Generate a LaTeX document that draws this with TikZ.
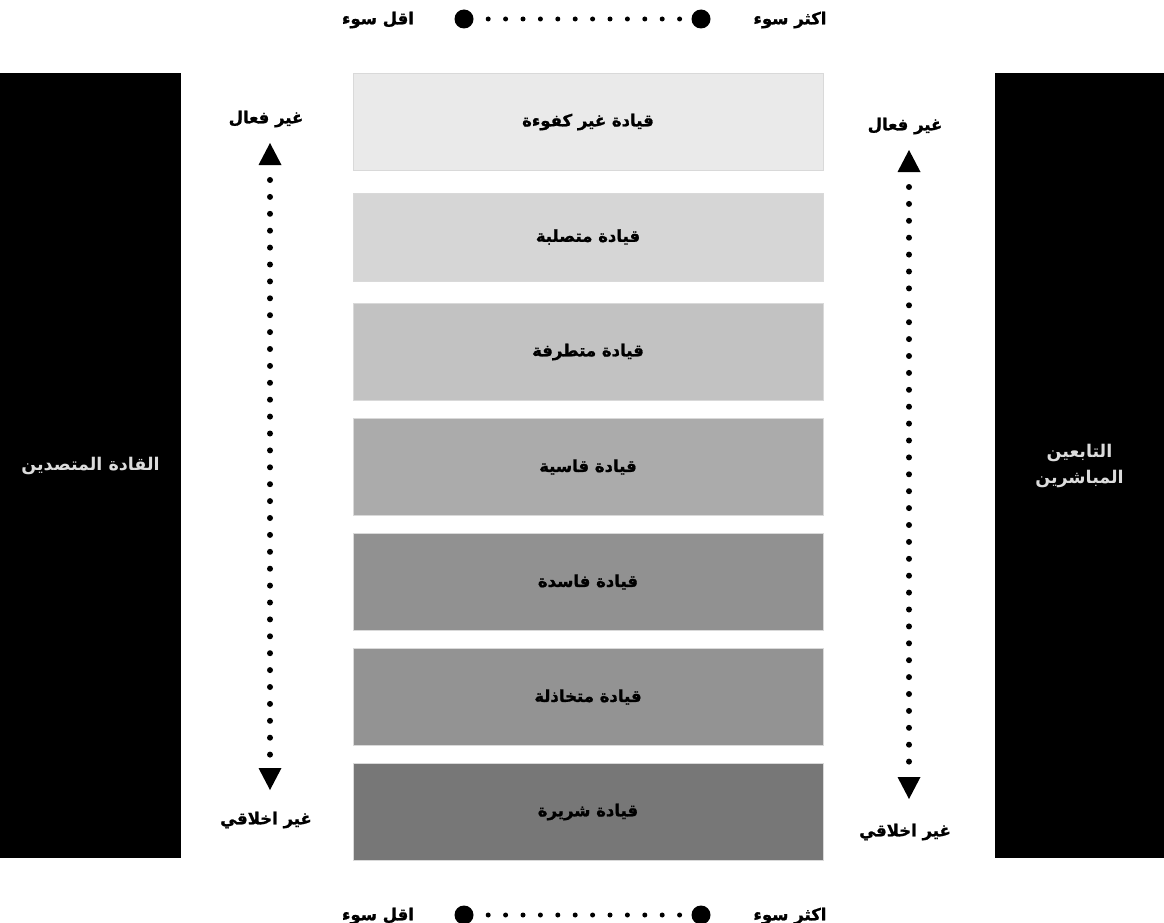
\documentclass[tikz,border=0pt]{standalone}
\usepackage{fontspec}
\usepackage{color}
\usetikzlibrary{arrows.meta}
\TeXXeTstate=1
\newfontfamily\arabicfont[Script=Arabic]{DejaVu Sans}
\newfontfamily\arabicheavy[Script=Arabic,FakeBold=1.2]{DejaVu Sans Bold}
\newcommand{\artxt}[1]{\beginR #1\endR}
\definecolor{lvlA}{HTML}{EAEAEA}
\definecolor{lvlB}{HTML}{D6D6D6}
\definecolor{lvlC}{HTML}{C2C2C2}
\definecolor{lvlD}{HTML}{ABABAB}
\definecolor{lvlE}{HTML}{919191}
\definecolor{lvlF}{HTML}{939393}
\definecolor{lvlG}{HTML}{777777}
\definecolor{bartext}{HTML}{DCDCDC}

\begin{document}
\begin{tikzpicture}[x=1pt,y=-1pt,node distance=115pt,
		level node/.style={rectangle,draw=white!85!black,line width=0.6pt,minimum width=470pt,minimum height=97pt,
			font=\arabicheavy\fontsize{16.5}{18}\selectfont},
		bar effect/.style={rectangle,fill=black,minimum height=785pt,text=bartext,align=center,
			font=\arabicfont\fontsize{17.5}{26}\selectfont\bfseries},
		tag node/.style={font=\arabicheavy\fontsize{16.5}{18}\selectfont},
		end dot/.style={circle,fill=black,minimum size=19pt,inner sep=0pt},
		dot row/.style={line width=5pt,line cap=round,dash pattern=on 0pt off 17.4pt,dash phase=2.9pt},
		dot arrow/.style={line width=6pt,line cap=round,dash pattern=on 0pt off 16.9pt,dash phase=1.9pt,
			{Triangle[length=22pt,width=23pt,line width=0pt]}-{Triangle[length=22pt,width=23pt,line width=0pt]}}]

		\useasboundingbox (0,0) rectangle (1164,923);

		% the two side bars
		\node[bar effect, minimum width=181pt] (L) at (90.5,465.5) {\artxt{القادة المتصدين}};
		\node[bar effect, minimum width=169pt] (R) at (1079.5,465.5) {\artxt{التابعين}\\\artxt{المباشرين}};

		% the seven levels
		\node[level node, fill=lvlA] (1) at (588,122) {\artxt{قيادة غير كفوءة}};
		\node[level node, fill=lvlB, minimum height=88pt] (2) [below of=1] {\artxt{قيادة متصلبة}};
		\node[level node, fill=lvlC] (3) [below of=2] {\artxt{قيادة متطرفة}};
		\node[level node, fill=lvlD] (4) [below of=3] {\artxt{قيادة قاسية}};
		\node[level node, fill=lvlE] (5) [below of=4] {\artxt{قيادة فاسدة}};
		\node[level node, fill=lvlF] (6) [below of=5] {\artxt{قيادة متخاذلة}};
		\node[level node, fill=lvlG] (7) [below of=6] {\artxt{قيادة شريرة}};

		% scale rows
		\node[end dot] (tl) at (464,19) {};
		\node[end dot] (tr) at (701,19) {};
		\node[tag node] (tless) at (378,20) {\artxt{اقل سوء}};
		\node[tag node] (tmore) at (790,20) {\artxt{اكثر سوء}};
		\node[end dot] (bl) at (464,915) {};
		\node[end dot] (br) at (701,915) {};
		\node[tag node] (bless) at (378,916) {\artxt{اقل سوء}};
		\node[tag node] (bmore) at (790,916) {\artxt{اكثر سوء}};
		\draw[dot row] (tl) -- (tr);
		\draw[dot row] (bl) -- (br);

		% side arrows
		\node[tag node] (lup) at (266,119) {\artxt{غير فعال}};
		\node[tag node] (ldown) at (266,820) {\artxt{غير اخلاقي}};
		\node[tag node] (rup) at (905,126) {\artxt{غير فعال}};
		\node[tag node] (rdown) at (905,832) {\artxt{غير اخلاقي}};
		\coordinate (lt) at (270,143);
		\coordinate (lb) at (270,790);
		\coordinate (rt) at (909,150);
		\coordinate (rb) at (909,799);
		\draw[dot arrow] (lt) -- (lb);
		\draw[dot arrow] (rt) -- (rb);
\end{tikzpicture}
\end{document}
